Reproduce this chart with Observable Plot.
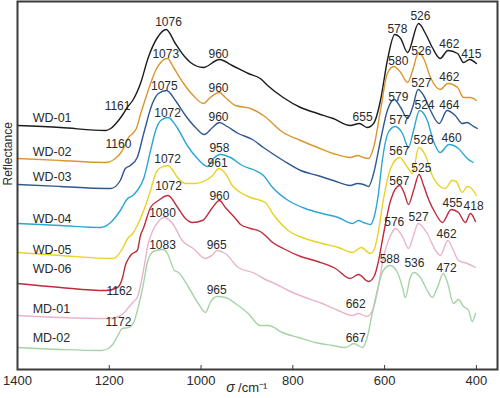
<!DOCTYPE html>
<html><head><meta charset="utf-8">
<script src="https://cdn.jsdelivr.net/npm/d3@7"></script>
<script src="https://cdn.jsdelivr.net/npm/@observablehq/plot@0.6"></script>
<style>body{margin:0;background:#fff} svg{display:block}</style>
</head><body><div id="chart"></div>
<script>
// Series (σ in cm-1, relative reflectance in arbitrary units, stacked)
const seriesNames = ["WD-01","WD-02","WD-03","WD-04","WD-05","WD-06","MD-01","MD-02"];
const seriesColors = ["#1b1b1b","#d8962f","#2f5790","#2aa6d3","#e9d226","#c02a3c","#e8b4cd","#a6d3a6"];

const wd01 = [[1400,244],[1306,242],[1208,239],[1197,241],[1180,249],[1169,256],[1161,262],[1149,269],[1132,286],[1115,312],[1095,332],[1076,340],[1056,326],[1034,312],[1023,307],[995,302],[960,310],[932,304],[897,296],[871,291],[855,284],[821,272],[783,262],[746,256],[712,251],[675,244],[655,246],[638,242],[624,246],[609,269],[594,309],[578,335],[565,331],[550,317],[526,346],[511,336],[496,322],[479,311],[462,319],[441,316],[428,307],[415,310],[400,306]];
const wd02 = [[1400,211],[1306,209],[1208,207],[1187,211],[1176,216],[1167,223],[1158,232],[1149,236],[1141,241],[1132,255],[1121,271],[1110,286],[1099,299],[1088,307],[1073,311],[1060,302],[1038,286],[1017,274],[995,266],[980,272],[960,277],[947,272],[925,264],[892,261],[864,254],[821,237],[783,229],[746,222],[712,216],[675,212],[659,214],[646,212],[635,211],[624,222],[609,259],[594,296],[580,303],[565,297],[550,287],[539,299],[526,317],[515,311],[500,292],[479,280],[462,286],[441,282],[428,272],[413,272],[400,269]];
const wd03 = [[1400,185],[1306,183],[1208,181],[1197,181],[1176,189],[1165,201],[1154,204],[1139,212],[1125,236],[1106,266],[1093,276],[1075,279],[1056,269],[1034,254],[1012,242],[993,235],[975,242],[960,247],[943,243],[919,236],[888,230],[864,222],[821,209],[783,199],[746,194],[712,189],[675,184],[659,186],[646,185],[635,183],[624,196],[609,229],[594,259],[579,270],[565,262],[550,251],[539,262],[527,280],[515,274],[500,259],[481,246],[464,259],[446,254],[431,246],[420,247],[409,244],[398,241]];
const wd04 = [[1400,146],[1306,144],[1219,142],[1197,147],[1176,159],[1160,171],[1149,174],[1139,179],[1125,191],[1110,219],[1099,239],[1088,249],[1072,252],[1051,241],[1030,224],[1008,211],[986,203],[973,211],[958,215],[936,212],[910,204],[882,199],[864,194],[844,182],[810,169],[773,161],[736,156],[701,152],[670,146],[657,149],[646,147],[631,145],[622,154],[614,174],[605,209],[592,237],[577,243],[561,236],[548,222],[537,239],[524,259],[507,249],[494,229],[479,217],[460,225],[439,221],[420,211],[407,207]];
const wd05 = [[1400,117],[1306,114],[1191,111],[1171,121],[1160,131],[1149,136],[1139,144],[1125,159],[1110,179],[1099,196],[1088,202],[1072,204],[1051,192],[1034,186],[1012,186],[990,189],[975,194],[961,201],[947,196],[932,184],[914,177],[892,172],[860,167],[844,156],[810,139],[773,131],[736,126],[701,122],[670,117],[651,122],[631,116],[622,121],[614,137],[603,169],[587,201],[567,212],[550,202],[539,196],[526,222],[511,214],[496,194],[479,183],[468,181],[453,189],[444,188],[431,177],[420,183],[413,182],[400,174]];
const wd06 = [[1400,86],[1306,82],[1208,79],[1182,82],[1171,92],[1165,104],[1158,111],[1152,115],[1139,119],[1132,134],[1125,142],[1110,162],[1093,169],[1072,174],[1051,162],[1034,151],[1019,147],[997,149],[975,162],[960,169],[947,162],[925,151],[914,145],[892,141],[871,138],[860,134],[844,127],[821,121],[783,113],[746,108],[707,101],[675,91],[657,95],[635,88],[622,94],[614,107],[603,134],[587,169],[567,184],[557,176],[548,165],[537,179],[525,195],[515,184],[505,171],[489,156],[474,147],[455,160],[439,157],[424,147],[413,156],[402,148]];
const md01 = [[1400,54],[1306,52],[1213,51],[1187,52],[1169,56],[1158,62],[1147,68],[1139,72],[1132,84],[1121,111],[1117,122],[1106,138],[1093,148],[1080,152],[1062,146],[1041,129],[1017,121],[990,111],[977,114],[965,119],[947,116],[919,102],[882,96],[860,90],[844,87],[810,79],[773,72],[736,66],[701,59],[670,54],[657,56],[638,53],[624,62],[614,82],[603,111],[587,134],[576,141],[559,131],[548,121],[537,134],[527,146],[507,136],[489,119],[479,114],[462,129],[450,119],[439,109],[420,106],[402,102]];
const md02 = [[1400,22],[1306,20],[1219,19],[1202,21],[1191,26],[1180,35],[1172,41],[1158,42],[1147,47],[1136,64],[1125,87],[1117,107],[1104,118],[1083,120],[1073,116],[1067,109],[1058,99],[1049,97],[1027,82],[1006,66],[990,57],[980,67],[965,73],[947,72],[925,66],[897,56],[871,44],[853,44],[823,37],[788,32],[751,27],[714,24],[685,22],[667,26],[648,22],[638,32],[627,56],[616,79],[603,99],[588,104],[572,97],[561,82],[555,72],[544,92],[536,97],[522,92],[507,79],[496,72],[485,82],[472,96],[463,87],[450,66],[439,70],[428,63],[417,59],[409,48],[402,56]];

const xTicks = [1400,1200,1000,800,600,400];

// Peak annotations
const peakText  = ["1076","1073","960","1161","1160","1075","960","1072","960","958","1072","961","1072","960","1080","1083","965","965","1162","1172","655","662","667","578","526","462","415","580","526","462","527","579","524","464","577","526","460","567","525","567","455","418","576","527","462","588","536","472"];
const peakSigma = [1071,1077,962,1182,1180,1080,962,1073,962,960,1073,964,1071,960,1084,1084,966,966,1178,1180,648,663,663,572,522,459,411,570,520,459,520,570,513,459,568,515,454,568,520,568,452,406,579,526,465,589,535,465];
const peakR     = [347,315,315,263,225,283,281,256,252,221,210,206,183,173,156,124,124,79,78,47,252,65,31,340,353,325,315,308,318,292,286,272,264,264,249,229,231,218,201,188,166,163,147,152,135,110,106,101];

// Series name labels
const nameSigma = 1367;
const nameR = [252,218,193,151,120,101,61,32];

const seriesData = [wd01,wd02,wd03,wd04,wd05,wd06,md01,md02];
const lines = seriesData.flatMap((pts,i) => pts.map(([s,r]) => ({series: seriesNames[i], sigma: s, r})));
const names = seriesNames.map((n,i) => ({name: n, sigma: nameSigma, r: nameR[i]}));
const peaks = peakText.map((t,i) => ({t, sigma: peakSigma[i], r: peakR[i]}));

const font = "'Liberation Sans', Arial, Helvetica, sans-serif";
const chart = Plot.plot({
  width: 500, height: 398,
  marginLeft: 17, marginRight: 3, marginTop: 1, marginBottom: 29,
  style: {fontFamily: font, fontSize: "12px", background: "#fff", color: "#2a2a2a"},
  x: {domain: [1400, 354], label: null},
  y: {domain: [0, 368], axis: null},
  color: {domain: seriesNames, range: seriesColors},
  marks: [
    Plot.line(lines, {x: "sigma", y: "r", z: "series", stroke: "series", strokeWidth: 1.4, curve: "monotone-x"}),
    Plot.text(peaks, {x: "sigma", y: "r", text: "t", fontSize: 12, fill: "#2a2a2a"}),
    Plot.text(names, {x: "sigma", y: "r", text: "name", textAnchor: "start", fontSize: 12.5, fill: "#2a2a2a"}),
    Plot.frame({stroke: "#3a3a3a", strokeWidth: 2}),
    Plot.axisX({ticks: xTicks, tickSize: -4, tickPadding: 10, fontSize: 13, label: null, tickFormat: d => String(d), stroke: "#3a3a3a"}),
    Plot.text(["Reflectance"], {frameAnchor: "left", dx: -9, rotate: -90, fontSize: 12, fill: "#2a2a2a"}),
    Plot.text(["σ"], {frameAnchor: "bottom", dx: -27, dy: 22, fontStyle: "italic", fontSize: 14, fill: "#2a2a2a"}),
    Plot.text([" /cm⁻¹"], {frameAnchor: "bottom", textAnchor: "start", dx: -23, dy: 22, fontSize: 13, fill: "#2a2a2a"})
  ]
});
document.getElementById("chart").append(chart);
</script>
</body></html>
